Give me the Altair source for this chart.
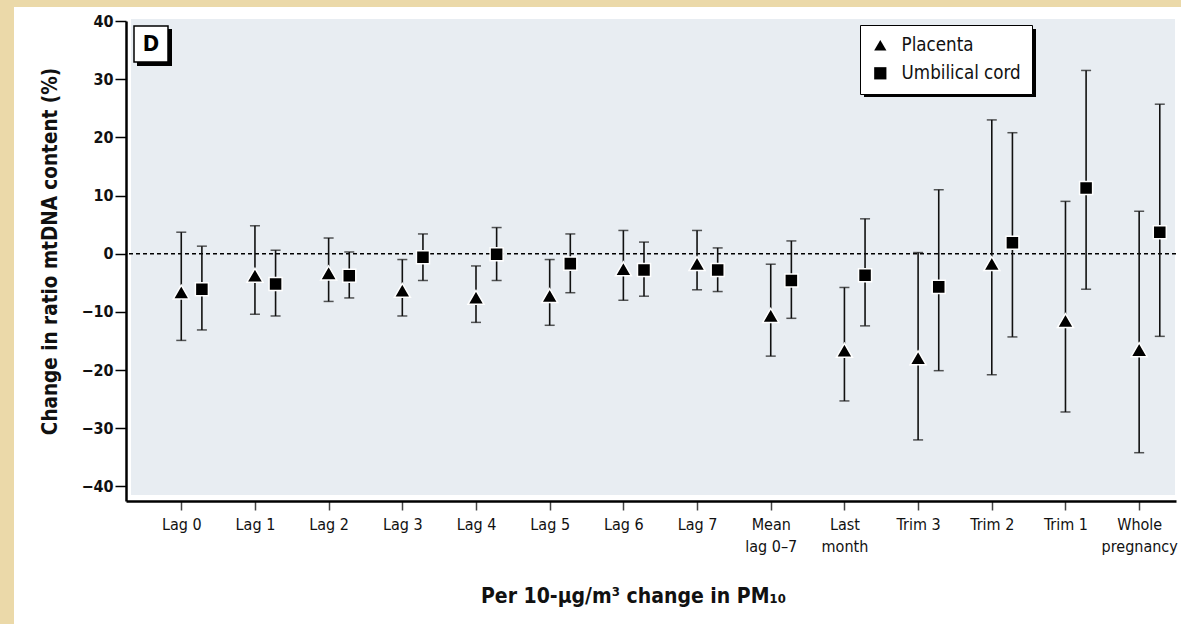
import altair as alt
import pandas as pd

# ---- data ----
categories = ["Lag 0", "Lag 1", "Lag 2", "Lag 3", "Lag 4", "Lag 5", "Lag 6", "Lag 7",
              "Mean lag 0–7", "Last month", "Trim 3", "Trim 2", "Trim 1", "Whole pregnancy"]
tick_labels = [["Lag 0"], ["Lag 1"], ["Lag 2"], ["Lag 3"], ["Lag 4"], ["Lag 5"], ["Lag 6"],
               ["Lag 7"], ["Mean", "lag 0–7"], ["Last", "month"], ["Trim 3"], ["Trim 2"],
               ["Trim 1"], ["Whole", "pregnancy"]]
series = ["Placenta", "Umbilical cord"]

placenta_est = [-6.6, -3.7, -3.3, -6.3, -7.5, -7.2, -2.6, -1.7, -10.6, -16.6, -17.9, -1.7, -11.5, -16.5]
placenta_lo = [-14.9, -10.4, -8.2, -10.7, -11.8, -12.3, -8.0, -6.2, -17.6, -25.3, -32.0, -20.8, -27.2, -34.2]
placenta_hi = [3.7, 4.8, 2.7, -1.0, -2.1, -1.0, 4.0, 4.0, -1.8, -5.8, 0.2, 23.0, 9.0, 7.3]

cord_est = [-6.1, -5.2, -3.8, -0.6, -0.1, -1.7, -2.8, -2.8, -4.6, -3.7, -5.7, 1.9, 11.3, 3.7]
cord_lo = [-13.1, -10.7, -7.6, -4.6, -4.6, -6.7, -7.3, -6.5, -11.1, -12.4, -20.1, -14.3, -6.1, -14.2]
cord_hi = [1.3, 0.6, 0.3, 3.4, 4.5, 3.4, 2.0, 1.0, 2.2, 6.0, 11.0, 20.8, 31.5, 25.7]

y_ticks = [-40, -30, -20, -10, 0, 10, 20, 30, 40]

# ---- build table ----
rows = []
for s, est, lo, hi, off in [(series[0], placenta_est, placenta_lo, placenta_hi, 0.0),
                            (series[1], cord_est, cord_lo, cord_hi, 0.28)]:
    for i, c in enumerate(categories):
        rows.append({"series": s, "cat": c, "pos": i + off,
                     "est": est[i], "lo": lo[i], "hi": hi[i]})
df = pd.DataFrame(rows)
caps = pd.concat([df.assign(bound=df["lo"]), df.assign(bound=df["hi"])])

FONT = "Liberation Sans Narrow, DejaVu Sans Condensed, Roboto Condensed, Arial Narrow, sans-serif"
W, H = 1050, 480

label_expr = "[" + ",".join("[" + ",".join("'" + t + "'" for t in lab) + "]" for lab in tick_labels) + "][datum.value]"

xscale = alt.Scale(domain=[-0.75, 13.5], nice=False, zero=False)
yscale = alt.Scale(domain=[-42.5, 40], nice=False)

one = pd.DataFrame({"k": [0]})

card = alt.Chart(one).mark_rect(color="white").encode(
    x=alt.value(-112), x2=alt.value(W + 10), y=alt.value(-14), y2=alt.value(H + 130))
panel = alt.Chart(one).mark_rect(color="#e8edf2").encode(
    x=alt.value(5), x2=alt.value(W - 1), y=alt.value(-2), y2=alt.value(H - 6))

base = alt.Chart(df)

zero = alt.Chart(one).mark_rule(color="black", strokeDash=[4, 3], strokeWidth=1.3).encode(
    y=alt.datum(0, scale=yscale))

whisk = base.mark_rule(color="#111", strokeWidth=1.6).encode(
    x=alt.X("pos:Q", scale=xscale,
            axis=alt.Axis(values=list(range(14)), labelExpr=label_expr, title="Per 10-µg/m³ change in PM₁₀",
                          grid=False, domainColor="black", domainWidth=2.5, tickColor="#444",
                          tickSize=9, tickWidth=1.5, labelFont=FONT, labelFontSize=16, labelPadding=6,
                          labelLineHeight=22, labelColor="#111", labelBaseline="top",
                          titleFont=FONT, titleFontSize=21, titleFontWeight="bold", titleColor="#111",
                          titleX=507, titleY=101, titleBaseline="alphabetic", zindex=2)),
    y=alt.Y("lo:Q", scale=yscale,
            axis=alt.Axis(values=y_ticks, title="Change in ratio mtDNA content (%)", grid=False,
                          domainColor="black", domainWidth=2.5, tickColor="black", tickSize=11,
                          tickWidth=1.5, labelFont=FONT, labelFontSize=16, labelFontWeight="bold",
                          labelPadding=2, labelColor="#111",
                          titleFont=FONT, titleFontSize=20.5, titleFontWeight="bold", titleColor="#111",
                          titleX=-70, titleY=230, titleBaseline="alphabetic", zindex=2)),
    y2="hi:Q")

cap = alt.Chart(caps).mark_tick(color="#111", orient="horizontal", size=10, thickness=1.5).encode(
    x=alt.X("pos:Q", scale=xscale), y=alt.Y("bound:Q", scale=yscale))

legend = alt.Legend(title=None, orient="none", legendX=734, legendY=4,
                    fillColor="white", strokeColor="black", padding=11,
                    labelFont=FONT, labelFontSize=18.6, labelColor="#111",
                    labelOffset=12, rowPadding=9, symbolSize=150,
                    symbolFillColor="black", symbolStrokeColor="black",
                    symbolStrokeWidth=0, cornerRadius=0, zindex=3)

pts = base.mark_point(filled=True, color="black", stroke="white", strokeWidth=1.5, opacity=1,
                      strokeOpacity=1).encode(
    x=alt.X("pos:Q", scale=xscale),
    y=alt.Y("est:Q", scale=yscale),
    shape=alt.Shape("series:N",
                    scale=alt.Scale(domain=series, range=["triangle-up", "square"]),
                    legend=legend),
    size=alt.condition(alt.datum.series == series[0], alt.value(260), alt.value(170)))

d_shadow = alt.Chart(one).mark_rect(color="black").encode(
    x=alt.value(11), x2=alt.value(46), y=alt.value(8), y2=alt.value(45))
d_box = alt.Chart(one).mark_rect(color="white", stroke="black", strokeWidth=1.5).encode(
    x=alt.value(8), x2=alt.value(42), y=alt.value(5), y2=alt.value(41))
d_text = alt.Chart(one).mark_text(text="D", font=FONT, fontSize=22, fontWeight="bold",
                                  color="black", baseline="middle", align="center").encode(
    x=alt.value(25), y=alt.value(23))

leg_shadow_r = alt.Chart(one).mark_rect(color="black").encode(
    x=alt.value(906), x2=alt.value(910), y=alt.value(8), y2=alt.value(76))
leg_shadow_b = alt.Chart(one).mark_rect(color="black").encode(
    x=alt.value(738), x2=alt.value(910), y=alt.value(71), y2=alt.value(76))

chart = alt.layer(card, panel, zero, whisk, cap, pts, d_shadow, d_box, d_text,
                  leg_shadow_r, leg_shadow_b).properties(
    width=W, height=H,
    autosize=alt.AutoSizeParams(type="none"),
    padding={"left": 126, "top": 21, "right": 5, "bottom": 123},
    background="#ebd9a9",
).configure_view(stroke=None, fill=None)

chart.save("out.html", embed_options={"renderer": "svg", "actions": False})
